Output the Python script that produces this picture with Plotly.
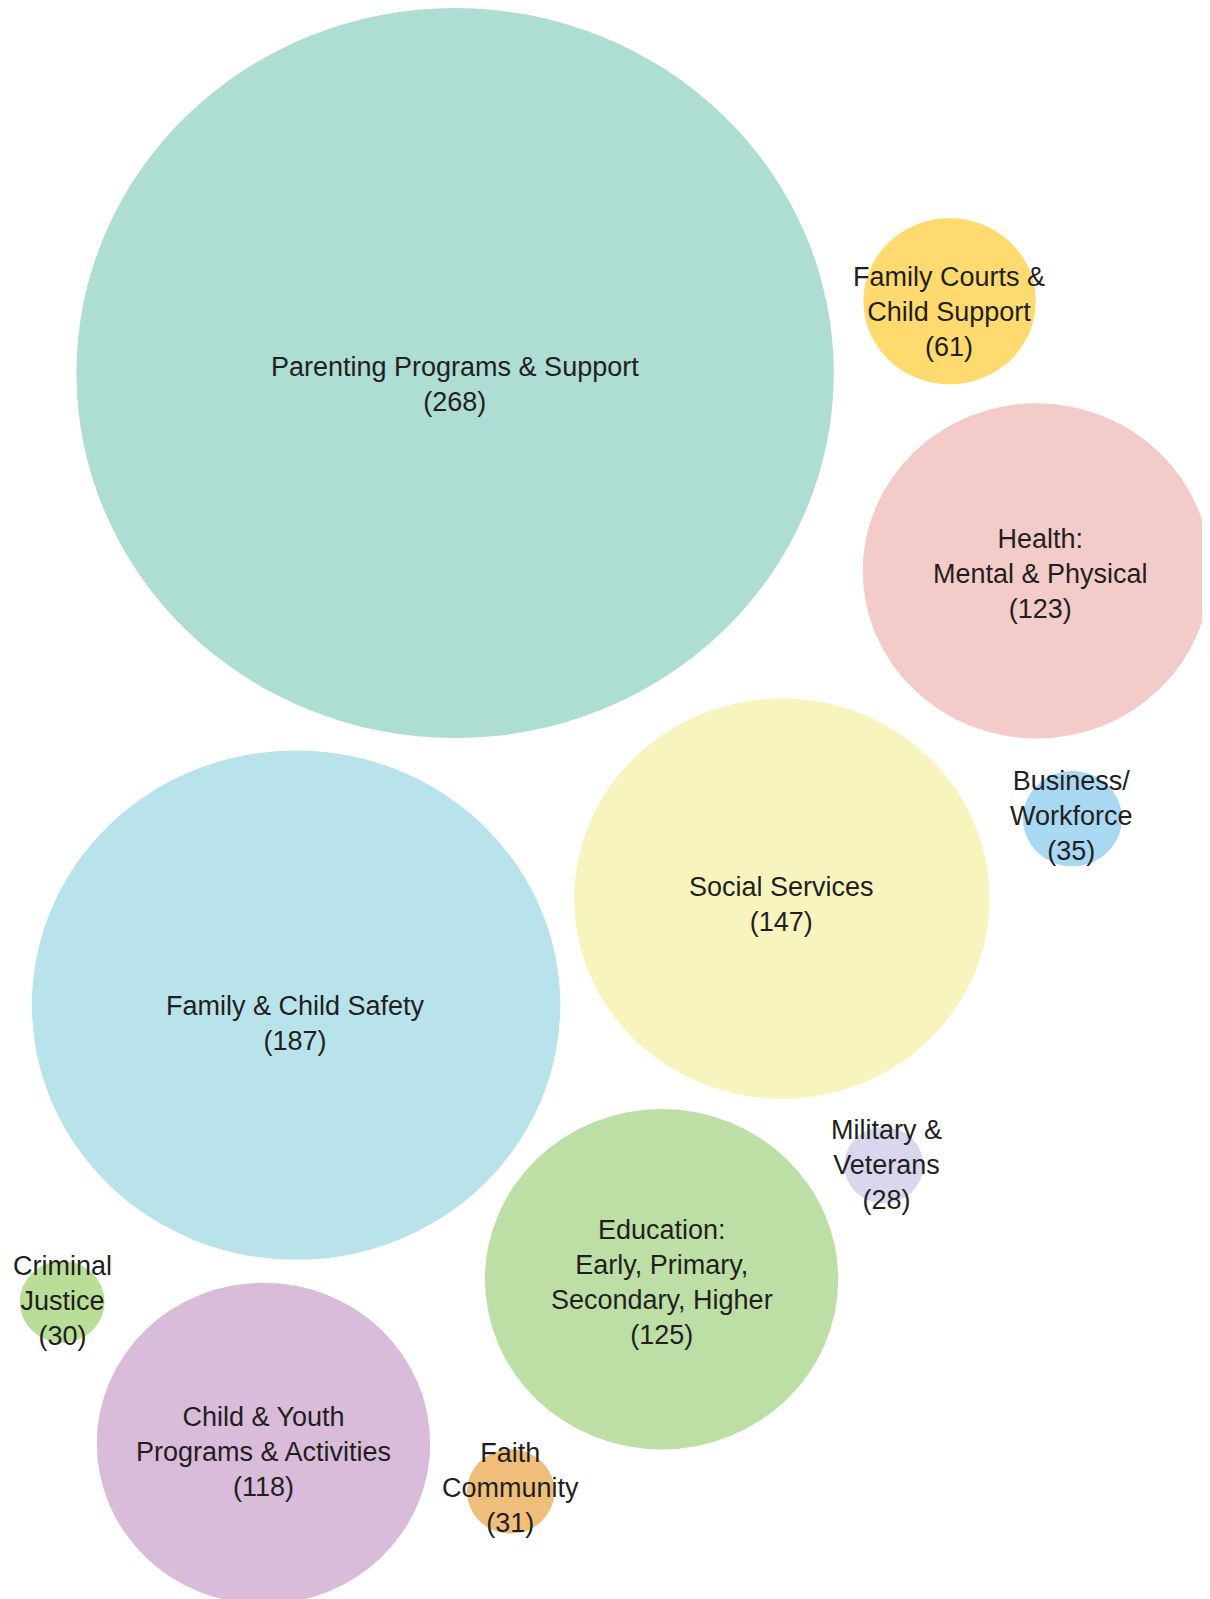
import plotly.graph_objects as go

# ---- data ----
categories = [
    "Parenting Programs & Support",
    "Family Courts & Child Support",
    "Health: Mental & Physical",
    "Business/ Workforce",
    "Social Services",
    "Family & Child Safety",
    "Military & Veterans",
    "Education: Early, Primary, Secondary, Higher",
    "Criminal Justice",
    "Child & Youth Programs & Activities",
    "Faith Community",
]
values = [268, 61, 123, 35, 147, 187, 28, 125, 30, 118, 31]
label_lines = [
    ["Parenting Programs & Support"],
    ["Family Courts &", "Child Support"],
    ["Health:", "Mental & Physical"],
    ["Business/", "Workforce"],
    ["Social Services"],
    ["Family & Child Safety"],
    ["Military &", "Veterans"],
    ["Education:", "Early, Primary,", "Secondary, Higher"],
    ["Criminal", "Justice"],
    ["Child & Youth", "Programs & Activities"],
    ["Faith", "Community"],
]

# ---- layout (page-pixel positions) ----
center_x = [455.1, 949.6, 1036.5, 1072.4, 781.9, 296.1, 883.8, 661.6, 62.2, 263.5, 510.7]
center_y = [373.1, 301.2, 570.9, 818.6, 898.6, 1005.1, 1165.2, 1279.3, 1301.8, 1443.5, 1491.4]
label_x = [454.7, 949.0, 1040.8, 1071.4, 781.9, 295.6, 886.9, 661.6, 62.2, 263.0, 510.7]
label_y = [384.3, 311.9, 574.0, 815.5, 904.2, 1023.5, 1165.2, 1282.4, 1300.8, 1451.6, 1488.3]
colors = ["#AEDDD3", "#FFDA6F", "#F3CBC9", "#A9D8F3", "#F8F4BE", "#B8E3EA",
          "#D9D6EE", "#BDDFA6", "#B8DE98", "#D9BBDA", "#F0BE7B"]

KX = 1.413  # px per unit horizontally
KY = 1.362  # px per unit vertically

PAGE_W, PAGE_H = 1210, 1599
OFF = 8  # default body margin of the page
W, H = PAGE_W - OFF, PAGE_H - OFF

fig = go.Figure()
shapes = []
for v, cx, cy, c in zip(values, center_x, center_y, colors):
    rx, ry = KX * v, KY * v
    shapes.append(dict(type="circle", xref="x", yref="y",
                       x0=cx - rx, x1=cx + rx, y0=cy - ry, y1=cy + ry,
                       fillcolor=c, line=dict(width=0), layer="below"))

annotations = []
for lines, v, lx, ly in zip(label_lines, values, label_x, label_y):
    text = "<br>".join(lines + [f"({v})"])
    annotations.append(dict(x=lx, y=ly, xref="x", yref="y", text=text,
                            showarrow=False, xanchor="center", yanchor="middle",
                            align="center",
                            font=dict(family="Liberation Sans, Arial, sans-serif",
                                      size=27, color="#231F20")))

# invisible trace carrying the data for hover
fig.add_trace(go.Scatter(x=center_x, y=center_y, mode="markers",
                         marker=dict(size=1, opacity=0),
                         text=categories, customdata=values,
                         hovertemplate="%{text}: %{customdata}<extra></extra>",
                         showlegend=False))

fig.update_layout(
    width=W, height=H,
    margin=dict(l=0, r=0, t=0, b=0),
    paper_bgcolor="white", plot_bgcolor="white",
    shapes=shapes, annotations=annotations,
    xaxis=dict(range=[OFF, OFF + W], visible=False, fixedrange=True),
    yaxis=dict(range=[OFF + H, OFF], visible=False, fixedrange=True),
)

fig.write_html("out.html")
